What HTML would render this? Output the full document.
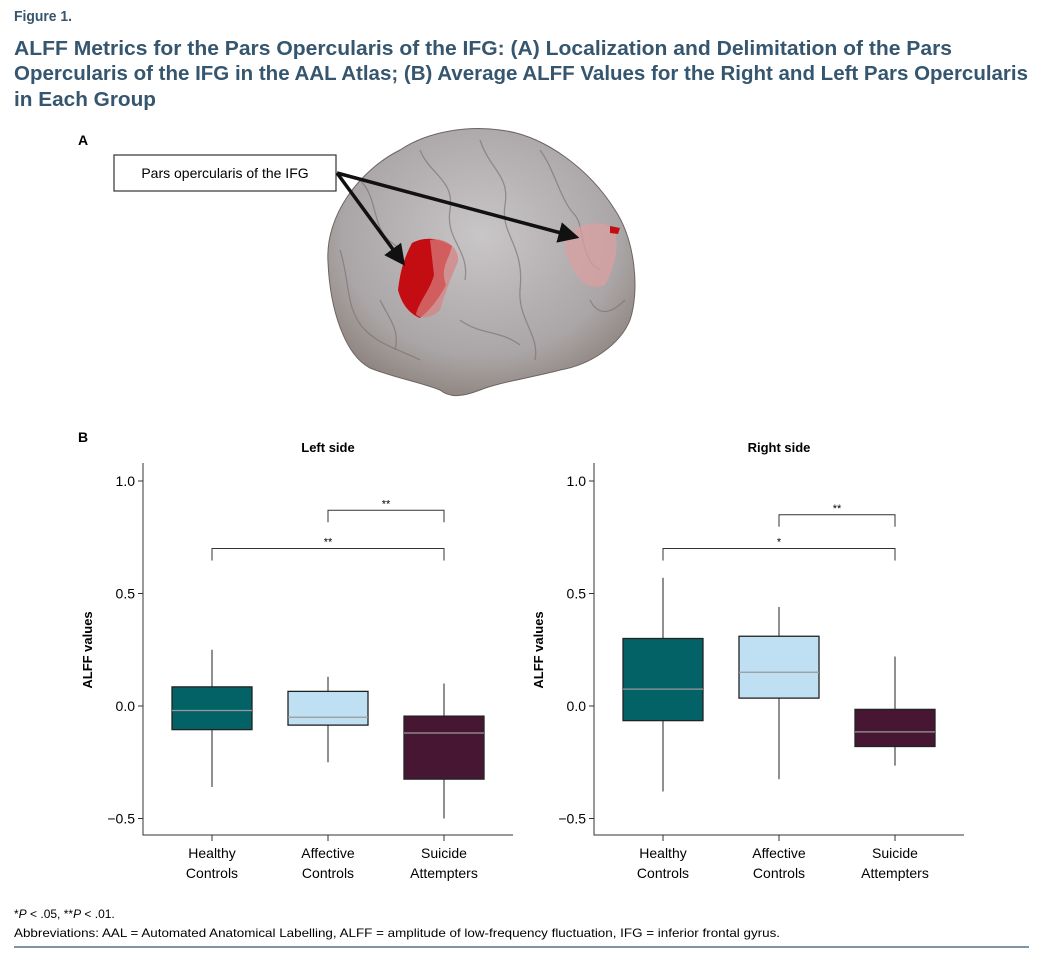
<!DOCTYPE html>
<html><head><meta charset="utf-8"><style>
html,body{margin:0;padding:0;background:#fff;}
svg{display:block;font-family:"Liberation Sans",sans-serif;}
</style></head><body>
<svg id="fig" width="1042" height="960" viewBox="0 0 1042 960" xmlns="http://www.w3.org/2000/svg">
<defs>
<radialGradient id="brainGrad" cx="0.5" cy="0.4" r="0.65">
<stop offset="0" stop-color="#c9c6c8"/><stop offset="0.7" stop-color="#aaa5a6"/><stop offset="1" stop-color="#8a7f78"/>
</radialGradient>
<marker id="arr" markerWidth="6" markerHeight="6" refX="5" refY="3" orient="auto" markerUnits="strokeWidth"><path d="M0,0 L6,3 L0,6 z" fill="#111"/></marker>
</defs>
<text x="14" y="21" font-size="15" fill="#35566e" font-weight="bold" textLength="58" lengthAdjust="spacingAndGlyphs">Figure 1.</text>
<g font-size="20.5" font-weight="bold" fill="#35566e">
<text x="14" y="55" textLength="938" lengthAdjust="spacingAndGlyphs">ALFF Metrics for the Pars Opercularis of the IFG: (A) Localization and Delimitation of the Pars</text>
<text x="14" y="80" textLength="1014" lengthAdjust="spacingAndGlyphs">Opercularis of the IFG in the AAL Atlas; (B) Average ALFF Values for the Right and Left Pars Opercularis</text>
<text x="14" y="106" textLength="142" lengthAdjust="spacingAndGlyphs">in Each Group</text>
</g>
<text x="78" y="145" font-size="14" font-weight="bold">A</text>
<g>
<path d="M328,262 C325,215 360,170 400,150 C430,130 470,126 500,130 C545,135 590,170 615,210 C635,240 640,290 630,320 C620,345 590,365 560,370 C530,378 500,382 480,390 C462,397 450,398 440,390 C420,382 395,378 370,368 C345,355 330,310 328,262 Z" fill="url(#brainGrad)" stroke="#6b6462" stroke-width="1"/>
<g fill="none" stroke="#7e7674" stroke-width="1.3" opacity="0.7">
<path d="M360,180 C380,200 370,230 395,245 C410,255 400,290 420,300"/>
<path d="M420,150 C430,175 455,180 450,210 C445,240 470,250 465,280"/>
<path d="M480,140 C490,170 510,175 505,205 C500,235 525,245 520,290 C518,320 540,335 535,360"/>
<path d="M540,150 C555,170 560,200 575,215 C585,228 580,260 600,270"/>
<path d="M340,250 C350,280 345,310 365,330 C380,345 400,350 420,360"/>
<path d="M460,320 C480,335 500,330 520,345"/>
<path d="M590,300 C600,320 615,310 625,300"/>
<path d="M380,300 C390,320 400,330 395,350"/>
</g>
<path d="M412,243 C425,236 440,238 452,246 C448,262 440,268 446,285 C438,300 430,310 420,318 C410,314 402,305 398,290 C400,275 402,262 412,243 Z" fill="#c40d12"/>
<path d="M430,240 C445,236 460,248 458,262 C452,275 446,290 440,310 C432,318 420,320 416,314 C420,300 430,290 434,275 Z" fill="#d98080" opacity="0.7"/>
<path d="M568,235 C580,222 600,220 614,228 C620,245 615,268 605,285 C592,290 580,284 574,270 C566,258 562,246 568,235 Z" fill="#d9a0a0" opacity="0.75"/>
<path d="M610,226 L620,228 L618,234 L610,233 Z" fill="#c40d12"/>
</g>
<rect x="114" y="155" width="222" height="36" fill="#fff" stroke="#333" stroke-width="1.2"/>
<text x="225" y="178" font-size="14" text-anchor="middle">Pars opercularis of the IFG</text>
<line x1="337" y1="173" x2="403" y2="263" stroke="#111" stroke-width="3.5" marker-end="url(#arr)"/>
<line x1="337" y1="173" x2="576" y2="237" stroke="#111" stroke-width="3.5" marker-end="url(#arr)"/>
<text x="78" y="442" font-size="14" font-weight="bold">B</text>
<g id="charts"></g>
<text x="14" y="918" font-size="12">*<tspan font-style="italic">P</tspan> &lt; .05, **<tspan font-style="italic">P</tspan> &lt; .01.</text>
<text x="14" y="937" font-size="12" textLength="766" lengthAdjust="spacingAndGlyphs">Abbreviations: AAL = Automated Anatomical Labelling, ALFF = amplitude of low-frequency fluctuation, IFG = inferior frontal gyrus.</text>
<line x1="14" y1="947" x2="1029" y2="947" stroke="#35566e" stroke-width="1.2"/>
</svg>
<script>
const categories = ["Healthy|Controls", "Affective|Controls", "Suicide|Attempters"];
const yTicks = [1.0, 0.5, 0.0, -0.5];
const yTickLabels = ["1.0", "0.5", "0.0", "\u22120.5"];
const leftWhiskerHigh = [0.25, 0.13, 0.10];
const leftQ3 = [0.085, 0.065, -0.045];
const leftMedian = [-0.02, -0.05, -0.12];
const leftQ1 = [-0.105, -0.085, -0.325];
const leftWhiskerLow = [-0.36, -0.25, -0.50];
const rightWhiskerHigh = [0.57, 0.44, 0.22];
const rightQ3 = [0.30, 0.31, -0.015];
const rightMedian = [0.075, 0.15, -0.115];
const rightQ1 = [-0.065, 0.035, -0.18];
const rightWhiskerLow = [-0.38, -0.325, -0.265];
const leftBrackets = [[1, 2, 0.87, "**"], [0, 2, 0.70, "**"]];
const rightBrackets = [[1, 2, 0.85, "**"], [0, 2, 0.70, "*"]];
const fills = ["#036266", "#bfdff2", "#461632"];

const NS = "http://www.w3.org/2000/svg";
const root = document.getElementById("charts");
function mk(tag, attrs, parent) {
  const e = document.createElementNS(NS, tag);
  for (const k in attrs) e.setAttribute(k, attrs[k]);
  parent.appendChild(e);
  return e;
}
function drawPanel(axisX, title, wh, q3, med, q1, wl, brackets, side) {
  const g = mk("g", {}, root);
  
  
  const y = v => 706 - v * 225;
  const x = i => axisX + 69 + i * 116;
  const t = mk("text", {x: axisX + 185, y: 452, "font-size": 13, "font-weight": "bold", "text-anchor": "middle"}, g);
  t.textContent = title;
  
  
  const ax = mk("path", {d: `M${axisX},463 V835 H${axisX + 370}`, fill: "none", stroke: "#333", "stroke-width": 1}, g);
  
  
  yTicks.forEach((v, i) => {
    mk("line", {x1: axisX - 5, x2: axisX, y1: y(v), y2: y(v), stroke: "#333"}, g);
    const tl = mk("text", {x: axisX - 8, y: y(v) + 5, "font-size": 14, "text-anchor": "end"}, g);
    tl.textContent = yTickLabels[i];
    
    
  });
  const yt = mk("text", {x: 0, y: 0, "font-size": 13, "font-weight": "bold", "text-anchor": "middle", transform: `translate(${axisX - 51},650) rotate(-90)`}, g);
  yt.textContent = "ALFF values";
  
  
  categories.forEach((c, i) => {
    const cx = x(i);
    mk("line", {x1: cx, x2: cx, y1: 835, y2: 841, stroke: "#333"}, g);
    c.split("|").forEach((part, j) => {
      const tl = mk("text", {x: cx, y: 858 + j * 20, "font-size": 14, "text-anchor": "middle"}, g);
      tl.textContent = part;
      
      
    });
    const w = mk("line", {x1: cx, x2: cx, y1: y(wh[i]), y2: y(wl[i]), stroke: "#222", "stroke-width": 1}, g);
    
    
    const b = mk("rect", {x: cx - 40, y: y(q3[i]), width: 80, height: y(q1[i]) - y(q3[i]), fill: fills[i], stroke: "#222", "stroke-width": 1.3}, g);
    
    
    const m = mk("line", {x1: cx - 40, x2: cx + 40, y1: y(med[i]), y2: y(med[i]), stroke: "#9a9a9a", "stroke-width": 1.3}, g);
    
    
  });
  brackets.forEach(br => {
    const x1 = x(br[0]), x2 = x(br[1]), by = y(br[2]);
    const p = mk("path", {d: `M${x1},${by + 12} V${by} H${x2} V${by + 12}`, fill: "none", stroke: "#333", "stroke-width": 1}, g);
    
    
    const s = mk("text", {x: (x1 + x2) / 2, y: by - 3, "font-size": 11, "text-anchor": "middle"}, g);
    s.textContent = br[3];
    
    
  });
}
drawPanel(143, "Left side", leftWhiskerHigh, leftQ3, leftMedian, leftQ1, leftWhiskerLow, leftBrackets, "left");
drawPanel(594, "Right side", rightWhiskerHigh, rightQ3, rightMedian, rightQ1, rightWhiskerLow, rightBrackets, "right");
</script>
</body></html>
